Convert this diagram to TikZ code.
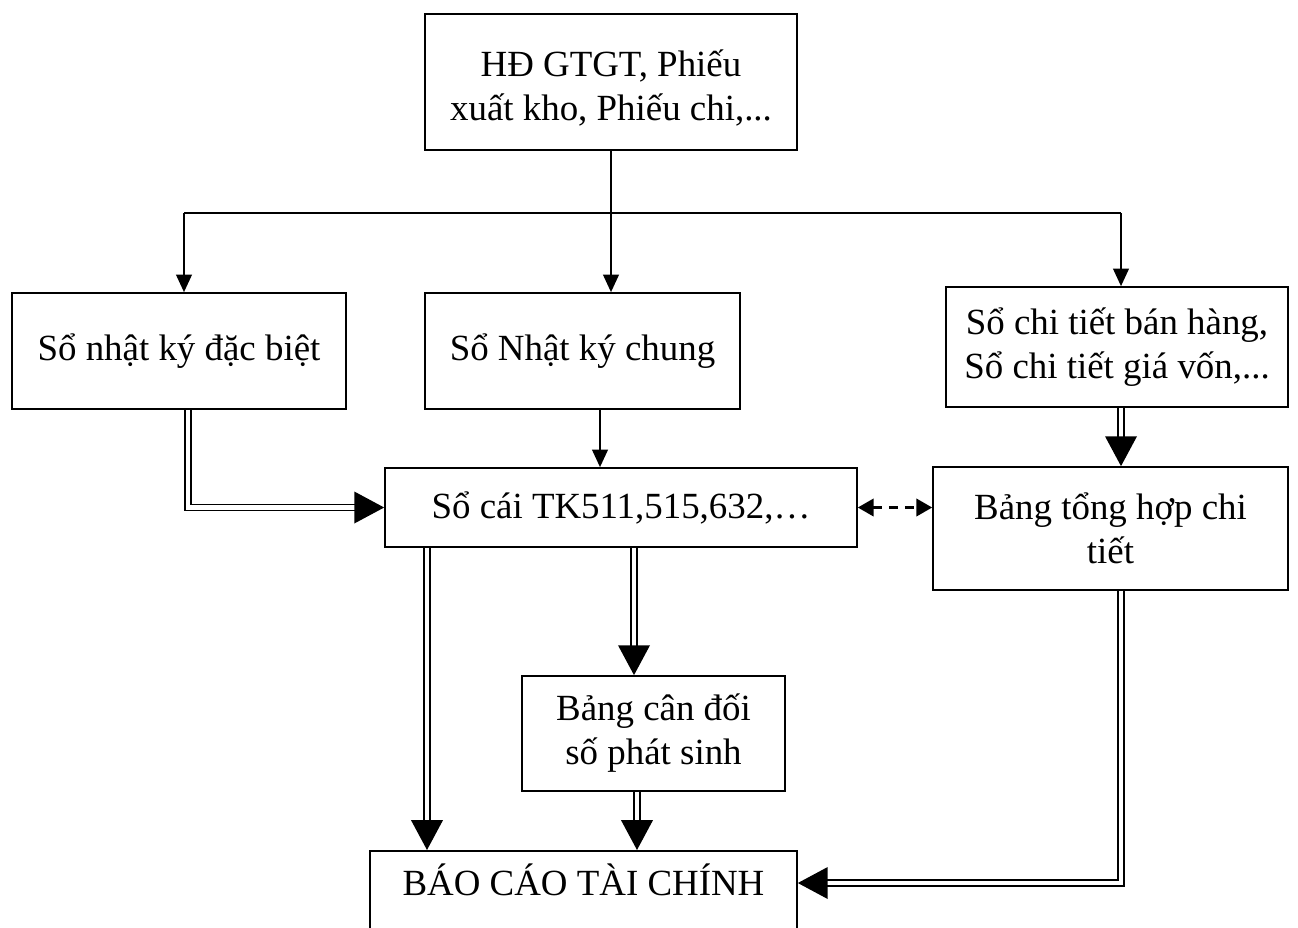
\documentclass[tikz,border=0pt]{standalone}
\usepackage{fontspec}
\setmainfont{Liberation Serif}
\usetikzlibrary{arrows.meta}

\tikzset{
	box/.style={draw, line width=1pt, align=center, inner sep=2pt,
		font=\fontsize{21}{25}\selectfont},
	arr/.style={line width=1pt, -{Triangle[length=10pt, width=9pt]}},
	dbl/.style={double, line width=0.9pt, double distance=2.4pt,
		-{Triangle[length=17pt, width=18pt]}},
	dsh/.style={line width=1.2pt, dash pattern=on 5pt off 4pt,
		{Triangle[length=9pt, width=10pt]}-{Triangle[length=9pt, width=10pt]}}
}

\begin{document}
\begin{tikzpicture}[x=0.02cm, y=-0.02cm]
	%% Page frame
	\clip (0,0) rectangle (1298,927);

	%% Boxes
	\node [box, minimum width=7.44cm, minimum height=2.72cm, text depth=0.1cm] (chungtu) at (611,82)
		{\rule{0pt}{0.75cm}HĐ GTGT, Phiếu\\xuất kho, Phiếu chi,...};
	\node [box, minimum width=6.68cm, minimum height=2.32cm] (sonk) at (179,351)
		{Sổ nhật ký đặc biệt};
	\node [box, minimum width=6.3cm, minimum height=2.32cm] (nkc) at (582.5,351)
		{Sổ Nhật ký chung};
	\node [box, minimum width=6.84cm, minimum height=2.4cm] (chitiet) at (1117,347)
		{Sổ chi tiết bán hàng,\\Sổ chi tiết giá vốn,...};
	\node [box, minimum width=9.44cm, minimum height=1.58cm] (socai) at (621,507.5)
		{Sổ cái TK511,515,632,…};
	\node [box, minimum width=7.1cm, minimum height=2.46cm] (tonghop) at (1110.5,528.5)
		{Bảng tổng hợp chi\\tiết};
	\node [box, minimum width=5.26cm, minimum height=2.3cm] (cdps) at (653.5,733.5)
		{Bảng cân đối\\số phát sinh};
	%% report box runs off the page at the bottom
	\node [box, anchor=north, minimum width=8.54cm, inner sep=0pt,
		text height=0.9cm, text depth=2cm] (bctc) at (583.5,850)
		{BÁO CÁO TÀI CHÍNH};

	%% Helper columns and bends
	\coordinate (split) at (611,213);
	\coordinate (colA) at (184,0);
	\coordinate (colB) at (1121,0);
	\coordinate (colC) at (600,0);
	\coordinate (colD) at (188,0);
	\coordinate (colE) at (427,0);
	\coordinate (colF) at (634,0);
	\coordinate (colG) at (637,0);
	\coordinate (bend) at (1121,883);

	%% Source documents to the books
	\draw [line width=1pt] (chungtu.south) -- (split);
	\draw [line width=1pt] (colA |- split) -- (colB |- split);
	\draw [arr] (colA |- split) -- (colA |- sonk.north);
	\draw [arr] (split) -- (split |- nkc.north);
	\draw [arr] (colB |- split) -- (colB |- chitiet.north);

	%% Books to the ledger
	\draw [arr] (colC |- nkc.south) -- (colC |- socai.north);
	\draw [dbl] (colD |- sonk.south) |- (socai.west);
	\draw [dbl] (colB |- chitiet.south) -- (colB |- tonghop.north);
	\draw [dsh] (socai.east) -- (socai.east -| tonghop.west);

	%% Towards the report
	\draw [dbl] (colE |- socai.south) -- (colE |- bctc.north);
	\draw [dbl] (colF |- socai.south) -- (colF |- cdps.north);
	\draw [dbl] (colG |- cdps.south) -- (colG |- bctc.north);
	\draw [dbl] (colB |- tonghop.south) -- (bend) -- (bend -| bctc.east);
\end{tikzpicture}
\end{document}
